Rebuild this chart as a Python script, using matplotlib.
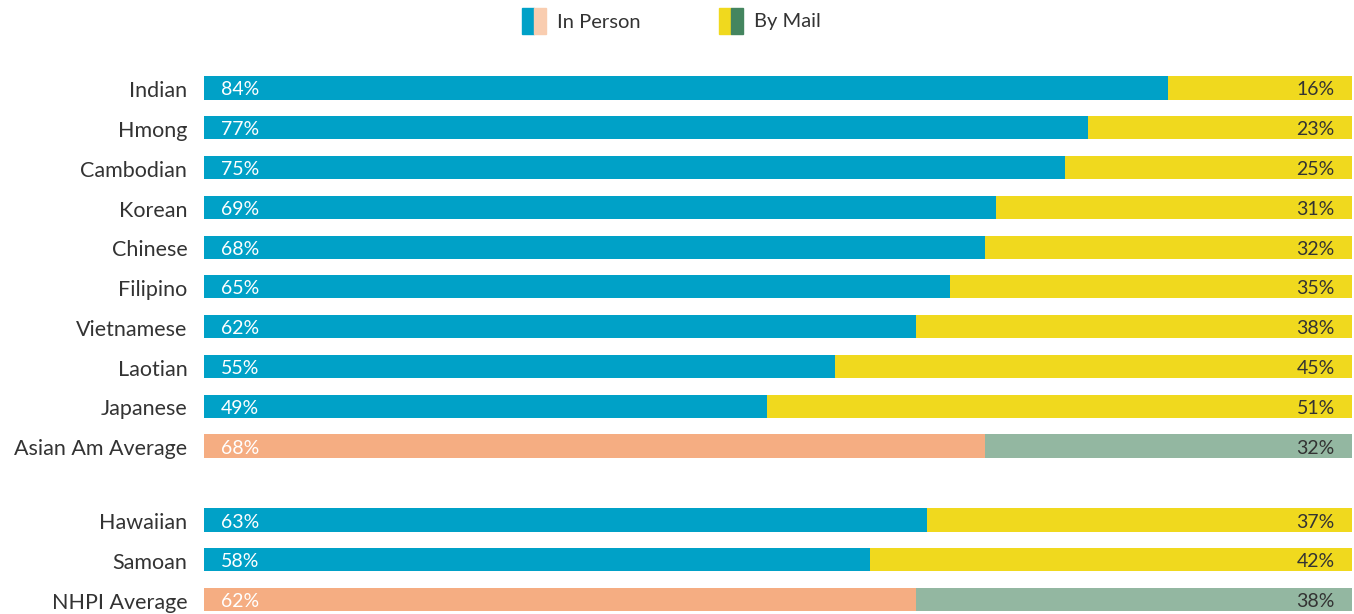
import matplotlib.pyplot as plt
from matplotlib.patches import Rectangle

groups = ['Indian', 'Hmong', 'Cambodian', 'Korean', 'Chinese', 'Filipino',
          'Vietnamese', 'Laotian', 'Japanese', 'Asian Am Average',
          'Hawaiian', 'Samoan', 'NHPI Average']
in_person = [84, 77, 75, 69, 68, 65, 62, 55, 49, 68, 63, 58, 62]
by_mail = [16, 23, 25, 31, 32, 35, 38, 45, 51, 32, 37, 42, 38]
is_average = [False] * 9 + [True] + [False, False, True]
positions = list(range(10)) + [10.86, 11.86, 12.86]

blue = '#00A1C7'
yellow = '#F0D91E'
orange = '#F5AD82'
sage = '#93B7A1'
peach = '#F9CDB0'
green = '#44855F'
text_col = '#333333'

plt.rcParams['font.family'] = ['Lato', 'DejaVu Sans']

fig = plt.figure(figsize=(13.54, 6.14), dpi=100)
ax = fig.add_axes([204 / 1354, 1 - 613.1 / 614, 1148 / 1354, (613.1 - 68.1) / 614])

for y, name, a, b, avg in zip(positions, groups, in_person, by_mail, is_average):
    c1 = orange if avg else blue
    c2 = sage if avg else yellow
    ax.barh(y, a, height=0.58, color=c1, left=0)
    ax.barh(y, b, height=0.58, color=c2, left=a)
    ax.text(1.45, y + 0.05, f'{a}%', color='white', va='center', ha='left', fontsize=14)
    ax.text(98.5, y + 0.05, f'{b}%', color=text_col, va='center', ha='right', fontsize=14)

ax.set_xlim(0, 100)
ax.set_ylim(13.2, -0.5)
ax.set_yticks([p + 0.03 for p in positions])
ax.set_yticklabels(groups, fontsize=15.5, color=text_col)
ax.tick_params(axis='y', length=0, pad=12)
ax.set_xticks([])
for s in ax.spines.values():
    s.set_visible(False)

# legend drawn by hand: two-colour swatches
def swatch(x, c_a, c_b, label, tx):
    fig.patches.append(Rectangle((x / 1354, 1 - 34 / 614), 12 / 1354, 26 / 614,
                                 transform=fig.transFigure, color=c_a))
    fig.patches.append(Rectangle(((x + 12) / 1354, 1 - 34 / 614), 12 / 1354, 26 / 614,
                                 transform=fig.transFigure, color=c_b))
    fig.text(tx / 1354, 1 - 22 / 614, label, fontsize=14.5, color=text_col, va='center')

swatch(522, blue, peach, 'In Person', 557)
swatch(719, yellow, green, 'By Mail', 754)

fig.savefig('out.png', dpi=100)
